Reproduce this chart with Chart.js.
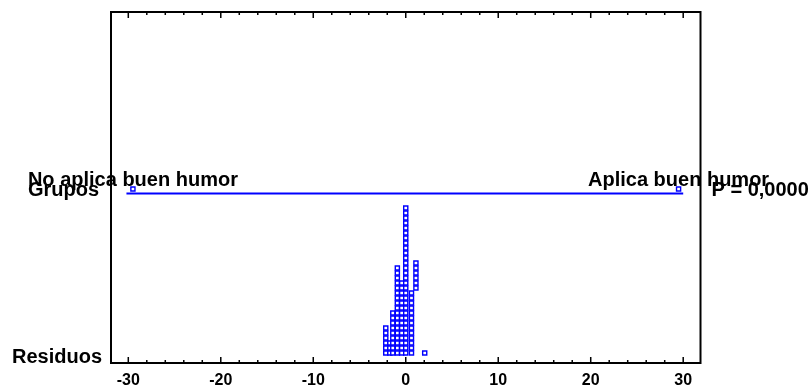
<!DOCTYPE html>
<html><head><meta charset="utf-8">
<script src="https://cdn.jsdelivr.net/npm/chart.js@4"></script>
<style>html,body{margin:0;padding:0;background:#fff;overflow:hidden}</style>
</head><body>
<canvas id="c" width="809" height="392"></canvas>
<script>
// ---- data ----
const xTicks = [-30, -20, -10, 0, 10, 20, 30];
const minorStep = 2;
const groupNames = ['No aplica buen humor', 'Aplica buen humor'];
const groupEffects = [-29.5, 29.5];
const groupLineEnds = [-30.2, 30.0];
const residualBins = [-2.16, -1.72, -1.4, -0.91, -0.44, 0, 0.62, 1.1, 2.05];
const residualCounts = [6, 3, 9, 18, 15, 30, 13, 6, 1];
const residualStartLevel = [0, 0, 0, 0, 0, 0, 0, 13, 0];
const rowLabels = ['Grupos', 'Residuos'];
const pLabel = 'P = 0,0000';

// ---- layout constants (stack-level units on a hidden y scale) ----
const Y_MAX = 70.2, Y_RES_BASE = 2, Y_GROUP_PT = 34.8, Y_GROUP_LINE = 33.9;
const BLUE = '#0000ff';
const FONT = '"Liberation Sans", Arial, sans-serif';

const residualPoints = [];
residualBins.forEach((x, i) => {
  for (let k = 0; k < residualCounts[i]; k++) {
    residualPoints.push({x: x, y: Y_RES_BASE + residualStartLevel[i] + k});
  }
});

const markerStyle = {pointStyle: 'rect', radius: 2.9, hoverRadius: 2.9, borderColor: BLUE, backgroundColor: '#ffffff', borderWidth: 1.4};

const framePlugin = {
  id: 'frame',
  afterDatasetsDraw(chart) {
    const {ctx, chartArea: a, scales: {x, y}} = chart;
    ctx.save();
    ctx.strokeStyle = '#000';
    ctx.lineWidth = 2;
    ctx.strokeRect(a.left, a.top, a.right - a.left, a.bottom - a.top);
    ctx.lineWidth = 1.5;
    const first = xTicks[0], last = xTicks[xTicks.length - 1];
    for (let v = first; v <= last + 1e-9; v += minorStep) {
      const px = x.getPixelForValue(v);
      const len = xTicks.includes(v) ? 6 : 3;
      ctx.beginPath();
      ctx.moveTo(px, a.bottom); ctx.lineTo(px, a.bottom - len);
      ctx.moveTo(px, a.top); ctx.lineTo(px, a.top + len);
      ctx.stroke();
    }
    ctx.fillStyle = '#000';
    ctx.font = 'bold 20px ' + FONT;
    ctx.textBaseline = 'alphabetic';
    ctx.textAlign = 'center';
    const gy = y.getPixelForValue(Y_GROUP_PT);
    groupNames.forEach((n, i) => ctx.fillText(n, x.getPixelForValue(groupEffects[i]), gy - 3));
    const ly = y.getPixelForValue(Y_GROUP_LINE);
    ctx.textAlign = 'right';
    ctx.fillText(rowLabels[0], a.left - 12, ly + 2.5);
    ctx.fillText(rowLabels[1], a.left - 9, a.bottom);
    ctx.textAlign = 'left';
    ctx.fillText(pLabel, a.right + 11, ly + 2.5);
    ctx.restore();
  }
};

new Chart(document.getElementById('c'), {
  type: 'scatter',
  data: {
    datasets: [
      {type: 'line', data: groupLineEnds.map(v => ({x: v, y: Y_GROUP_LINE})), borderColor: BLUE, borderWidth: 2, pointRadius: 0, fill: false},
      Object.assign({data: groupEffects.map(v => ({x: v, y: Y_GROUP_PT}))}, markerStyle),
      Object.assign({data: residualPoints}, markerStyle)
    ]
  },
  options: {
    animation: false,
    responsive: false,
    devicePixelRatio: 1,
    layout: {padding: {left: 111, right: 108.5, top: 12, bottom: 0}},
    plugins: {legend: {display: false}, tooltip: {enabled: false}},
    scales: {
      x: {
        type: 'linear', min: -31.87, max: 31.87,
        grid: {display: false, drawTicks: false},
        border: {display: false},
        afterBuildTicks: s => { s.ticks = xTicks.map(v => ({value: v})); },
        afterFit: s => { s.height = 29; },
        ticks: {padding: 8, color: '#000', maxRotation: 0, autoSkip: false,
          font: {family: FONT, size: 16, weight: 'bold'},
          callback: v => String(v)}
      },
      y: {type: 'linear', display: false, min: 0, max: Y_MAX}
    }
  },
  plugins: [framePlugin]
});
</script>
</body></html>
